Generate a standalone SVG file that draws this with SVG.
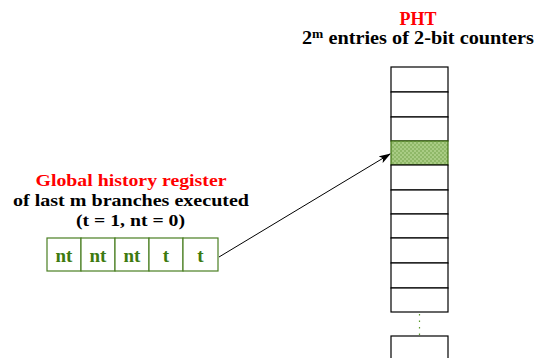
<svg xmlns="http://www.w3.org/2000/svg" width="540" height="358" viewBox="0 0 540 358">
<defs>
<style>
.t{font-family:"Liberation Serif","Times New Roman",serif;font-weight:bold;text-anchor:middle}
.red{fill:#ff0000}
.blk{fill:#000}
.cell{fill:#fff;stroke:#4a7f22;stroke-width:1.2}
.ct{font-family:"Liberation Serif","Times New Roman",serif;font-weight:bold;font-size:19px;fill:#3d7a10;text-anchor:middle}
.row{fill:#fff;stroke:#000;stroke-width:1.2}
</style>
<pattern id="dots" width="4" height="4" patternUnits="userSpaceOnUse">
<rect width="4" height="4" fill="#8fb868"/>
<rect x="0" y="0" width="2" height="2" fill="#a9cc84"/>
<rect x="2" y="2" width="2" height="2" fill="#a9cc84"/>
</pattern>
<marker id="ah" markerWidth="12" markerHeight="8" refX="11" refY="4" orient="auto" markerUnits="userSpaceOnUse">
<path d="M0,0 L12,4 L0,8 L3,4 Z" fill="#000"/>
</marker>
</defs>
<g id="pht-label">
<text class="t red" x="418" y="25" font-size="18">PHT</text>
<text class="t blk" x="418" y="44" font-size="18" textLength="232" lengthAdjust="spacingAndGlyphs">2<tspan font-size="12" dy="-6">m</tspan><tspan dy="6"> entries of 2-bit counters</tspan></text>
</g>
<g id="pht">
<rect class="row" x="391" y="67" width="57" height="25"/>
<rect class="row" x="391" y="92" width="57" height="25"/>
<rect class="row" x="391" y="117" width="57" height="24"/>
<rect x="391" y="141" width="57" height="24" fill="url(#dots)" stroke="#3f6f12" stroke-width="1.2"/>
<rect class="row" x="391" y="165" width="57" height="25"/>
<rect class="row" x="391" y="190" width="57" height="24"/>
<rect class="row" x="391" y="214" width="57" height="24"/>
<rect class="row" x="391" y="238" width="57" height="25"/>
<rect class="row" x="391" y="263" width="57" height="25"/>
<rect class="row" x="391" y="288" width="57" height="24"/>
<line x1="419.5" y1="314" x2="419.5" y2="336" stroke="#5a9a2a" stroke-width="1.2" stroke-dasharray="1.5,5"/>
<rect class="row" x="391" y="336" width="57" height="30"/>
</g>
<g id="ghr-label">
<text class="t red" x="131" y="186" font-size="17.5" textLength="191" lengthAdjust="spacingAndGlyphs">Global history register</text>
<text class="t blk" x="131" y="205.5" font-size="17.5" textLength="236" lengthAdjust="spacingAndGlyphs">of last m branches executed</text>
<text class="t blk" x="130.5" y="225.5" font-size="17.5" textLength="109" lengthAdjust="spacingAndGlyphs">(t = 1, nt = 0)</text>
</g>
<g id="ghr">
<rect class="cell" x="47" y="238" width="34" height="33"/>
<rect class="cell" x="81" y="238" width="34" height="33"/>
<rect class="cell" x="115" y="238" width="34" height="33"/>
<rect class="cell" x="149" y="238" width="34" height="33"/>
<rect class="cell" x="183" y="238" width="35" height="33"/>
<text class="ct" x="64" y="262">nt</text>
<text class="ct" x="98" y="262">nt</text>
<text class="ct" x="132" y="262">nt</text>
<text class="ct" x="166" y="262">t</text>
<text class="ct" x="200.5" y="262">t</text>
</g>
<g id="connectors">
<line x1="219" y1="257" x2="390" y2="154" stroke="#000" stroke-width="1" marker-end="url(#ah)"/>
</g>
</svg>
